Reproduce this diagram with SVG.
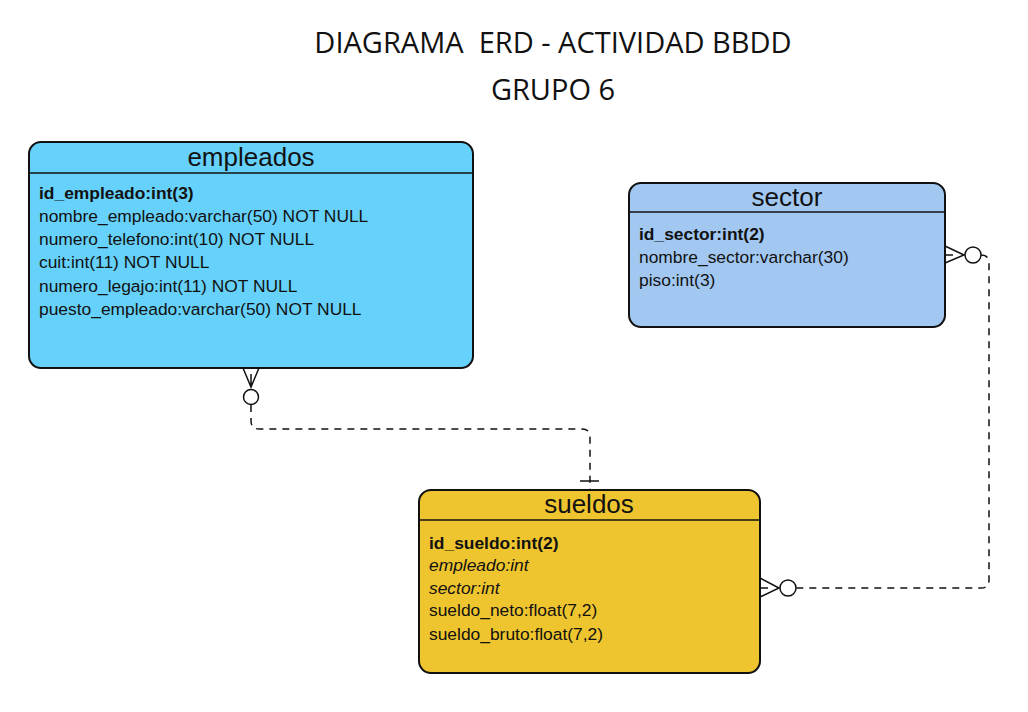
<svg xmlns="http://www.w3.org/2000/svg" width="1028" height="712" viewBox="0 0 1028 712">
<style>
.title{font-family:"Open Sans",sans-serif;font-size:29px;fill:#111;text-anchor:middle;white-space:pre}
.hdr{font-family:"Liberation Sans",Arial,sans-serif;font-size:26px;fill:#111;text-anchor:middle}
.att{font-family:"Liberation Sans",Arial,sans-serif;font-size:17.4px;fill:#111}
.pk{font-weight:bold}
.fk{font-style:italic}
.box{stroke:#111;stroke-width:2}
.sep{stroke:#111;stroke-width:1.5}
.ln{fill:none;stroke:#111;stroke-width:1.5}
.dash{fill:none;stroke:#111;stroke-width:1.5;stroke-dasharray:7 6}
.circ{fill:#fff;stroke:#111;stroke-width:1.5}
</style>
<rect width="1028" height="712" fill="#fff"/>
<g id="title">
<text class="title" x="553" y="53" xml:space="preserve">DIAGRAMA  ERD - ACTIVIDAD BBDD</text>
<text class="title" x="553" y="100">GRUPO 6</text>
</g>
<g id="empleados">
<rect class="box" x="29" y="142" width="444" height="226" rx="12" fill="#66d1fb"/>
<line class="sep" x1="29" y1="173" x2="473" y2="173"/>
<text class="hdr" x="251" y="166">empleados</text>
<text class="att pk" x="39" y="199">id_empleado:int(3)</text>
<text class="att" x="39" y="222">nombre_empleado:varchar(50) NOT NULL</text>
<text class="att" x="39" y="245">numero_telefono:int(10) NOT NULL</text>
<text class="att" x="39" y="268">cuit:int(11) NOT NULL</text>
<text class="att" x="39" y="292">numero_legajo:int(11) NOT NULL</text>
<text class="att" x="39" y="315">puesto_empleado:varchar(50) NOT NULL</text>
</g>
<g id="sector">
<rect class="box" x="629" y="183" width="316" height="144" rx="12" fill="#a2c8f2"/>
<line class="sep" x1="629" y1="212" x2="945" y2="212"/>
<text class="hdr" x="787" y="206">sector</text>
<text class="att pk" x="639" y="240">id_sector:int(2)</text>
<text class="att" x="639" y="263">nombre_sector:varchar(30)</text>
<text class="att" x="639" y="286">piso:int(3)</text>
</g>
<g id="sueldos">
<rect class="box" x="419" y="490" width="341" height="183" rx="12" fill="#efc52f"/>
<line class="sep" x1="419" y1="520" x2="760" y2="520"/>
<text class="hdr" x="589" y="513">sueldos</text>
<text class="att pk" x="429" y="549">id_sueldo:int(2)</text>
<text class="att fk" x="429" y="571">empleado:int</text>
<text class="att fk" x="429" y="594">sector:int</text>
<text class="att" x="429" y="616">sueldo_neto:float(7,2)</text>
<text class="att" x="429" y="640">sueldo_bruto:float(7,2)</text>
</g>
<g id="connectors">
<path class="dash" d="M251,405 V421 Q251,429 259,429 H582 Q590,429 590,437 V490"/>
<path class="ln" d="M243,368 L251,387 L259,368 M251,374 V386"/>
<circle class="circ" cx="251" cy="397" r="7.5"/>
<line class="ln" x1="580" y1="481" x2="599" y2="481"/>
<path class="dash" d="M981,255 Q989,255 989,263 V580 Q989,588 981,588 H796"/>
<path class="ln" d="M945,246 L964,255 L945,263 M945,255 H953"/>
<circle class="circ" cx="973" cy="255" r="8"/>
<path class="ln" d="M760,578 L779,588 L760,597 M760,588 H768"/>
<circle class="circ" cx="788" cy="588" r="8"/>
</g>
</svg>
